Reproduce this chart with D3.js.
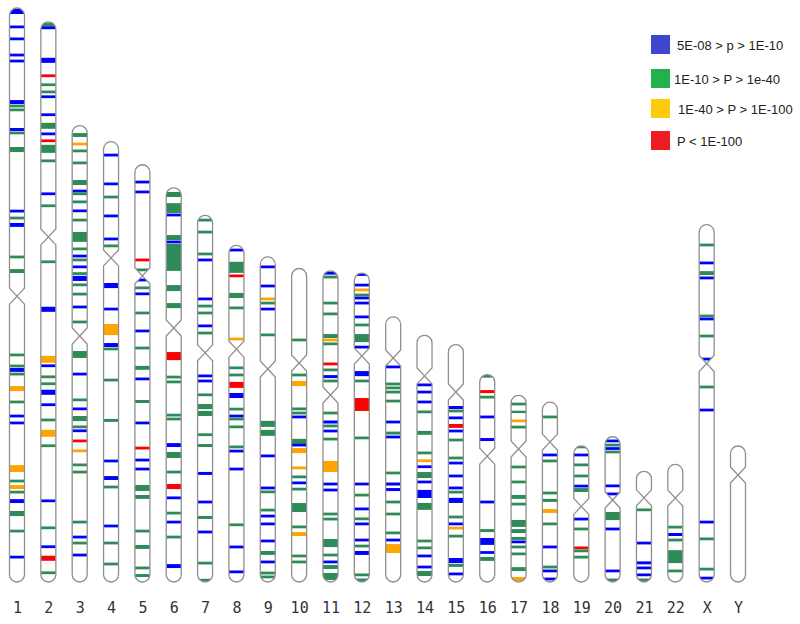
<!DOCTYPE html>
<html>
<head>
<meta charset="utf-8">
<script src="https://cdnjs.cloudflare.com/ajax/libs/d3/7.8.5/d3.min.js"></script>
<style>
body{margin:0;background:#fff}
</style>
</head>
<body>
<div id="chart"></div>
<script>
// chromosome names, lengths (Mb) and centromere position (Mb from p-ter)
var chromNames=['1','2','3','4','5','6','7','8','9','10','11','12','13','14','15','16','17','18','19','20','21','22','X','Y'];
var chromLen=[249,243,198,191,181,171,159,146,141,136,135,134,115,107,103,90,81,78,59,63,48,51,155,59];
var centromere=[125,93.3,91.3,50.4,48.2,60.8,59.6,45,48.6,41,53.9,36,17.8,17.6,20.6,35.4,23.3,17.3,26.2,27.4,11.5,14.6,60.2,12.6];

// hits: [position Mb, class, size Mb (optional)]  b:5E-08..1E-10  g:1E-10..1e-40  o:1E-40..1E-100  r:<1E-100
var bands1=[[1.5,'b',2.2],[8.2,'b'],[13.4,'b'],[20.4,'b'],[23.0,'b'],[40.8,'b',1.7],[42.5,'g'],[44.2,'g'],[52.7,'b',1.3],[54.2,'g'],[61.4,'g',2.2],[88.1,'b'],[91.1,'g'],[94.1,'b',1.7],[108.0,'g'],[114.1,'g',1.7],[150.5,'g'],[155.3,'g'],[157.0,'b',1.7],[158.8,'g'],[165.1,'o',2.2],[170.9,'g'],[177.0,'b'],[180.0,'b'],[199.8,'o',3.0],[205.2,'g'],[207.8,'o',1.7],[210.0,'g'],[213.9,'b',1.7],[219.3,'g',2.2],[226.9,'g'],[238.2,'b']];
var bands2=[[1.3,'g',1.7],[2.6,'b'],[16.7,'b',2.2],[23.4,'r'],[27.3,'g'],[30.4,'g'],[32.5,'b'],[40.3,'b'],[45.1,'g',2.6],[48.6,'b'],[51.6,'r'],[55.1,'g',3.5],[60.3,'g'],[74.6,'b'],[79.8,'g'],[104.1,'g'],[124.7,'b',2.2],[146.4,'o',3.0],[149.2,'b'],[154.0,'g'],[157.0,'g'],[160.7,'b',2.2],[166.1,'b'],[172.7,'g'],[178.5,'o',3.0],[183.9,'g'],[207.8,'b'],[219.5,'g'],[227.7,'b'],[232.7,'r',2.2],[239.0,'g']];
var bands3=[[4.1,'g',1.7],[8.0,'o'],[11.0,'g'],[16.2,'g'],[24.7,'g',2.2],[28.4,'b'],[29.6,'g'],[33.1,'g'],[37.0,'b'],[41.0,'g'],[48.3,'g',4.3],[53.5,'g'],[56.6,'b'],[58.3,'g'],[61.3,'b'],[64.2,'g'],[66.3,'b',2.2],[69.1,'g'],[73.1,'g'],[78.7,'b'],[85.2,'g'],[99.3,'g',3.0],[107.8,'b'],[119.0,'g'],[122.9,'b'],[127.1,'g',2.2],[130.7,'g'],[132.4,'b'],[136.8,'r'],[141.1,'o'],[147.2,'g'],[150.3,'g'],[172.0,'g'],[178.5,'b'],[181.1,'g'],[186.3,'b']];
var bands4=[[5.8,'b'],[18.3,'b'],[24.0,'g'],[32.2,'b'],[42.2,'b'],[45.2,'g'],[62.4,'b',2.2],[72.6,'b'],[81.5,'o',4.8],[88.2,'b',1.7],[89.9,'g'],[103.4,'g'],[120.9,'g',1.3],[138.5,'b'],[145.9,'b',1.7],[149.8,'g'],[166.7,'b'],[174.1,'g'],[183.2,'g']];
var bands5=[[7.5,'b'],[11.8,'b'],[41.3,'r'],[45.6,'g'],[50.0,'b'],[53.4,'g'],[56.0,'b'],[64.3,'g'],[72.1,'b'],[79.5,'g'],[88.1,'g',1.7],[92.9,'b'],[102.7,'g',1.3],[112.0,'b'],[122.9,'r'],[128.1,'b'],[132.0,'b'],[140.2,'g',2.6],[144.1,'g',1.7],[158.9,'g'],[165.8,'g',1.7],[174.9,'g'],[178.2,'g',1.3]];
var bands6=[[2.9,'g',2.2],[8.8,'g',4.3],[11.8,'b'],[21.6,'g',2.2],[23.5,'b'],[30.2,'g',11.7],[43.5,'g',2.6],[51.1,'g',2.2],[73.0,'r',3.5],[82.1,'g'],[84.2,'g'],[98.6,'g'],[100.3,'g'],[111.6,'b',1.7],[115.9,'g',2.6],[123.3,'g'],[129.6,'r',2.2],[134.5,'b'],[141.1,'g'],[145.0,'b'],[151.5,'g'],[164.1,'b',1.7]];
var bands7=[[2.0,'g'],[7.2,'g'],[16.7,'g'],[19.3,'b'],[36.2,'b'],[39.3,'g'],[42.3,'g'],[47.9,'b'],[51.0,'g'],[69.6,'b'],[71.8,'b'],[77.8,'g'],[82.9,'g',2.2],[85.9,'g',2.2],[95.1,'g'],[99.8,'g',1.3],[111.9,'b',1.3],[124.3,'b'],[131.0,'g',1.3],[137.3,'b'],[150.8,'g'],[158.2,'g']];
var bands8=[[2.0,'b'],[9.5,'g',4.8],[13.2,'r'],[21.7,'g',2.2],[27.1,'g'],[40.6,'o'],[53.1,'g'],[56.2,'g'],[60.5,'r',2.6],[65.1,'b',2.2],[71.0,'g'],[74.0,'b'],[75.3,'g'],[78.7,'g'],[87.4,'g'],[89.2,'b'],[97.0,'b'],[121.2,'g'],[130.8,'b'],[141.6,'b']];
var bands9=[[4.3,'b'],[12.6,'b'],[18.2,'o'],[20.0,'g'],[22.6,'b'],[33.8,'g'],[72.4,'g',2.6],[76.3,'g',2.6],[86.3,'b'],[100.2,'b'],[101.9,'g'],[109.8,'g'],[112.4,'b'],[115.8,'b'],[123.2,'b'],[128.4,'g',1.7],[132.3,'b'],[137.1,'g'],[138.8,'g']];
var bands10=[[31.0,'g'],[46.2,'g'],[49.9,'o',2.2],[60.9,'g'],[62.7,'g'],[64.4,'b'],[75.0,'g',2.2],[76.6,'b'],[79.0,'o',2.2],[86.5,'o'],[90.4,'g'],[93.0,'b'],[95.7,'g'],[103.7,'g',3.9],[112.1,'g'],[115.2,'o',1.7],[124.7,'g'],[127.3,'g']];
var bands11=[[1.0,'b',1.3],[2.7,'g'],[14.0,'g'],[18.7,'g'],[28.3,'g',1.7],[30.0,'o'],[31.7,'g'],[40.4,'r'],[43.0,'g'],[45.9,'b',1.3],[47.8,'g'],[61.7,'g'],[65.6,'b',1.3],[67.3,'g'],[69.5,'b'],[73.0,'g'],[84.9,'o',4.8],[92.5,'b'],[95.1,'b'],[105.5,'g'],[107.7,'g'],[118.1,'g',3.5],[123.3,'g'],[126.3,'b'],[128.5,'g',1.7],[132.6,'g',3.0]];
var bands12=[[0.6,'b'],[5.2,'b'],[7.3,'o'],[9.5,'g'],[10.8,'b'],[13.0,'b'],[19.0,'b'],[22.5,'g'],[28.2,'g',3.5],[32.1,'b'],[43.6,'b',2.2],[46.8,'g'],[57.0,'r',5.6],[71.5,'g'],[91.5,'b'],[96.3,'g'],[102.3,'b'],[106.6,'g'],[108.8,'b'],[115.8,'b'],[118.4,'g'],[121.4,'b',1.7],[130.9,'g'],[133.1,'g']];
var bands13=[[21.7,'b'],[29.1,'g'],[30.8,'g'],[32.6,'g'],[36.5,'g'],[45.6,'b'],[50.4,'g',1.3],[52.1,'b'],[67.7,'g'],[72.5,'b',1.3],[74.9,'b',1.3],[80.3,'g'],[85.5,'g'],[93.7,'g'],[96.8,'b'],[100.5,'o',3.9]];
var bands14=[[21.5,'b'],[24.6,'b'],[28.9,'b'],[33.2,'g'],[42.3,'g',1.7],[51.0,'g'],[54.4,'o'],[57.0,'b'],[60.6,'g',2.6],[63.6,'b'],[68.8,'b',3.5],[74.2,'g',3.0],[89.2,'g'],[92.2,'g'],[95.7,'b'],[100.5,'b'],[103.3,'g',2.2]];
var bands15=[[27.3,'b',1.3],[28.8,'g'],[31.8,'b'],[35.3,'r',1.7],[37.5,'b'],[41.4,'g'],[49.2,'g'],[51.4,'b'],[57.0,'b'],[62.2,'b'],[64.0,'g'],[67.6,'b',2.2],[74.8,'g'],[77.8,'b'],[79.6,'o'],[83.1,'g'],[93.7,'b',2.2],[95.8,'g',1.3],[99.5,'b']];
var bands16=[[0.7,'g',1.3],[7.4,'r',1.3],[9.8,'g'],[18.4,'b'],[28.2,'b',1.3],[55.3,'b'],[67.7,'g',1.3],[72.4,'b',3.0],[77.2,'b'],[80.0,'g',1.7]];
var bands17=[[3.8,'g'],[7.2,'g',1.0],[11.1,'o'],[13.8,'g'],[31.1,'g'],[37.6,'g'],[44.1,'g',1.7],[47.2,'g'],[55.6,'g',3.0],[58.9,'g',1.7],[62.1,'g',1.3],[63.6,'b'],[65.8,'g'],[68.8,'g'],[75.4,'g',1.7],[79.7,'o',1.7]];
var bands18=[[6.4,'g'],[22.9,'b'],[25.5,'g'],[39.4,'g'],[42.6,'g',1.3],[47.2,'o',1.7],[52.8,'g'],[62.8,'b'],[71.5,'g'],[73.2,'b'],[76.7,'b']];
var bands19=[[0.4,'g'],[3.9,'b'],[8.2,'g'],[13.0,'g'],[17.4,'b'],[19.1,'g',1.7],[31.7,'b'],[36.0,'g'],[44.2,'r'],[45.5,'g'],[48.2,'g']];
var bands20=[[1.8,'b'],[3.6,'g'],[5.1,'b'],[6.6,'g'],[21.3,'b'],[24.8,'b'],[34.4,'g',3.5],[40.0,'b'],[58.2,'b'],[62.1,'g']];
var bands21=[[16.7,'g'],[31.1,'b'],[39.7,'b',1.3],[41.9,'b'],[44.9,'b'],[47.1,'g']];
var bands22=[[27.2,'g'],[30.4,'b',1.3],[32.8,'g'],[40.0,'g',5.6],[46.2,'g']];
var bandsX=[[8.8,'g'],[16.6,'b'],[21.0,'g',1.7],[23.1,'b'],[39.6,'g'],[40.9,'b'],[48.3,'g'],[58.3,'b'],[70.4,'g'],[80.4,'b'],[129.0,'b'],[136.3,'g'],[149.4,'g'],[153.3,'b']];
var bandsY=[];
var bands=[bands1,bands2,bands3,bands4,bands5,bands6,bands7,bands8,bands9,bands10,bands11,bands12,bands13,bands14,bands15,bands16,bands17,bands18,bands19,bands20,bands21,bands22,bandsX,bandsY];

var legendLabels=['5E-08 > p > 1E-10','1E-10 > P > 1e-40','1E-40 > P > 1E-100','P < 1E-100'];
var legendKeys=['b','g','o','r'];

var bandColor={b:'#0000ff',g:'#2e8b57',o:'#ffa500',r:'#ff0000'};
var keyColor={b:'#3f48cc',g:'#22b14c',o:'#ffc90e',r:'#ed1c24'};

var W=800,H=624,
	bottom=582,
	halfW=7.5,
	pinch=8,
	thin=1.2;

var svg=d3.select('#chart').append('svg')
	.attr('width',W).attr('height',H)
	.attr('xmlns','http://www.w3.org/2000/svg');

var x=d3.scalePoint().domain(chromNames).range([17,738]);
var mb=d3.scaleLinear().domain([0,249]).range([0,574]);	// Mb -> pixel length

function chromPath(cx,top,cen){
	var r=halfW;
	return 'M'+(cx-r)+','+(top+r)+
		'A'+r+','+r+' 0 0 1 '+(cx+r)+','+(top+r)+
		'L'+(cx+r)+','+(cen-pinch)+
		'L'+cx+','+cen+
		'L'+(cx+r)+','+(cen+pinch)+
		'L'+(cx+r)+','+(bottom-r)+
		'A'+r+','+r+' 0 0 1 '+(cx-r)+','+(bottom-r)+
		'L'+(cx-r)+','+(cen+pinch)+
		'L'+cx+','+cen+
		'L'+(cx-r)+','+(cen-pinch)+'Z';
}

var defs=svg.append('defs');
var gChrom=svg.append('g').attr('id','g-chrom');

chromNames.forEach(function(name,i){
	var cx=x(name),
		top=bottom-mb(chromLen[i]),
		cen=top+mb(centromere[i]),
		d=chromPath(cx,top,cen),
		g=gChrom.append('g');

	defs.append('clipPath').attr('id','clip'+i)
		.append('path').attr('d',d);

	g.append('path').attr('d',d).attr('fill','#fff');	// body

	g.append('g').attr('clip-path','url(#clip'+i+')')
		.selectAll('rect').data(bands[i]).enter().append('rect')
		.attr('x',cx-halfW)
		.attr('width',halfW*2)
		.attr('y',function(b){return top+mb(b[0]-(b[2]||thin)/2)})
		.attr('height',function(b){return mb(b[2]||thin)})
		.attr('fill',function(b){return bandColor[b[1]]});

	g.append('path').attr('d',d)	// outline
		.attr('fill','none')
		.attr('stroke','#8f8f8f')
		.attr('stroke-width',1.3);
});

// chromosome labels
var axis=d3.axisBottom(x).tickSize(0).tickPadding(12);
var gAxis=svg.append('g').attr('transform','translate(0,590)').call(axis);
gAxis.select('.domain').remove();
gAxis.selectAll('text')
	.attr('font-family','"DejaVu Sans Mono",monospace')
	.attr('font-size',15)
	.attr('fill','#333');

// legend
var gLegend=svg.append('g').attr('id','g-legend');
var legendY=[35,69,99,131],
	legendTextX=[677,674,678,677];
legendKeys.forEach(function(k,i){
	gLegend.append('rect')
		.attr('x',651).attr('y',legendY[i])
		.attr('width',19).attr('height',19)
		.attr('fill',keyColor[k]);
	gLegend.append('text')
		.attr('x',legendTextX[i]).attr('y',legendY[i]+14.5)
		.attr('font-family','"Liberation Sans",Arial,sans-serif')
		.attr('font-size',13)
		.attr('fill','#222')
		.text(legendLabels[i]);
});
</script>
</body>
</html>
